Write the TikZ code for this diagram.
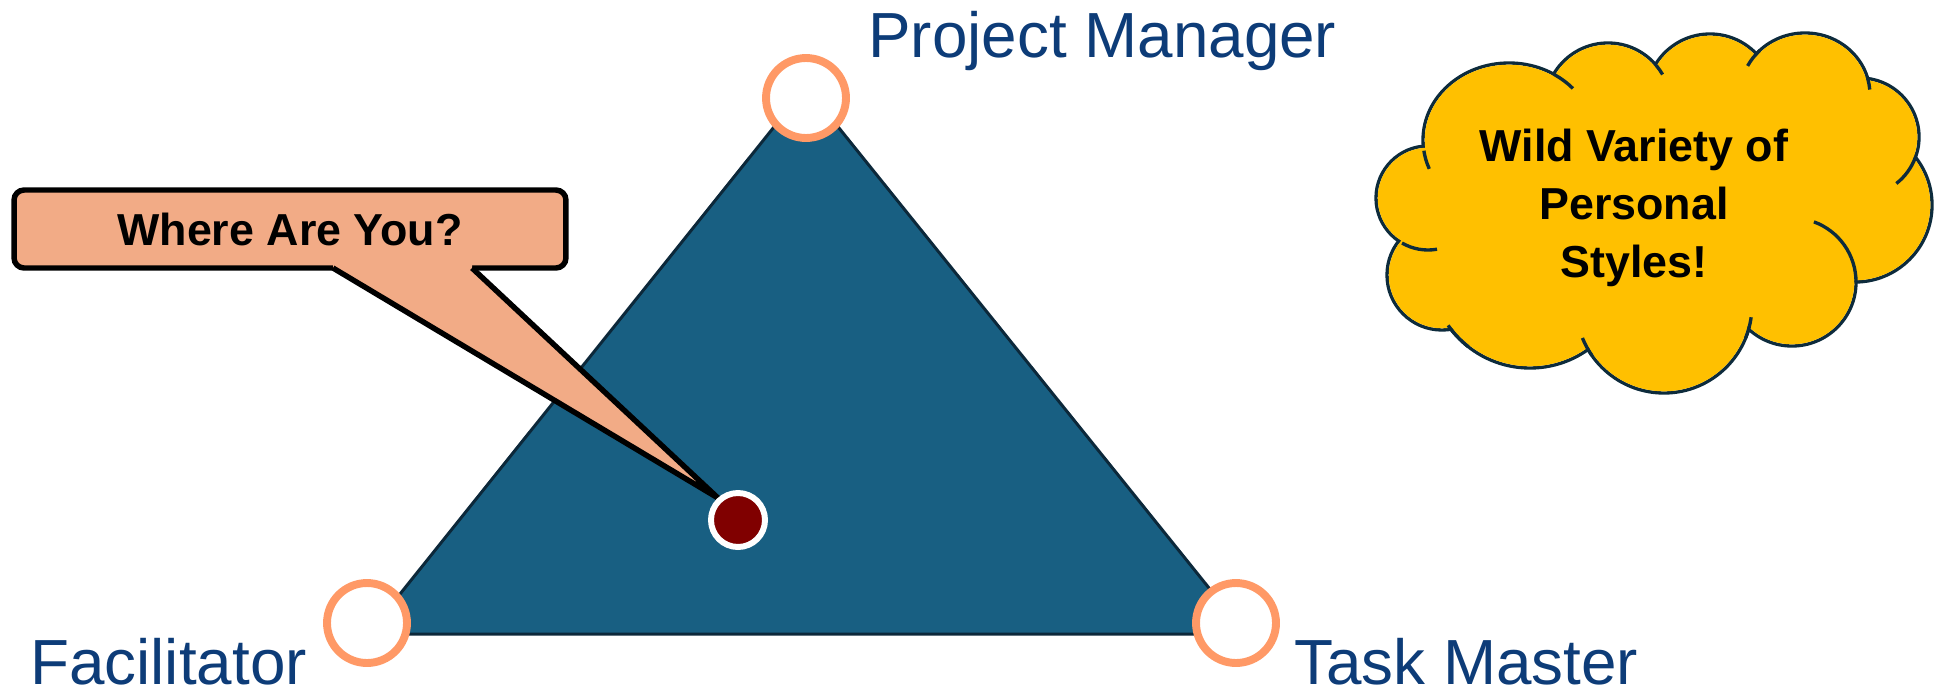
\documentclass[tikz,border=0pt]{standalone}
\usepackage{fontspec}
\setmainfont{Liberation Sans}
\definecolor{tribody}{RGB}{24,95,130}
\definecolor{triedge}{RGB}{12,40,58}
\definecolor{ringorange}{RGB}{255,153,102}
\definecolor{dotred}{RGB}{128,0,0}
\definecolor{askfill}{RGB}{242,171,134}
\definecolor{cloudyellow}{RGB}{255,192,0}
\definecolor{cloudedge}{RGB}{13,43,60}
\definecolor{labelblue}{RGB}{13,60,120}
% puffs of the cloud: x/y/x radius/y radius (pixels)
\newcommand\cloudpuffs{1509/140/86/77, 1608/106/63/63, 1710/98/64/64,
  1805/95/65/62, 1860/137/59/59, 1855/205/77/77, 1792/282/64/64,
  1664/305/88/88, 1530/268/100/100, 1442/275/55/55, 1428/198/52/52}
% short inner strokes of the cloud: x/y/x radius/y radius/from/to
\newcommand\cloudticks{1509/140/86/77/172/158, 1509/140/86/77/-58/-42,
  1608/106/63/63/-40/-30, 1805/95/65/62/226/208, 1805/95/65/62/-15/-5,
  1860/137/59/59/20/52, 1792/282/64/64/-70/0, 1664/305/88/88/8/22,
  1664/305/88/88/145/158, 1530/268/100/100/145/128, 1428/198/52/52/120/80}
\tikzset{
  tri/.style={fill=tribody,draw=triedge,line width=1.7pt,line join=miter},
  vertex/.style={circle,draw=ringorange,fill=white,line width=4.5pt,minimum size=1.6cm,inner sep=0pt},
  role/.style={anchor=base west,inner sep=0pt,text=labelblue,font=\fontsize{36.3}{40}\selectfont},
  askbox/.style={rectangle,rounded corners=5.7pt,draw=black,fill=askfill,line width=3.1pt,
    minimum width=11.04cm,minimum height=1.56cm,inner sep=0pt,font=\bfseries\fontsize{25.5}{30}\selectfont},
  asktail/.style={draw=black,line width=3.1pt,line join=miter},
  you/.style={circle,draw=white,fill=dotred,line width=3.4pt,minimum size=1.08cm,inner sep=0pt},
  cloudline/.style={draw=cloudedge,line width=1.9pt},
  cloudtext/.style={align=center,inner sep=0pt,font=\bfseries\fontsize{25.5}{32.9}\selectfont}
}
\begin{document}
\begin{tikzpicture}[x=0.02cm,y=-0.02cm]
  \useasboundingbox (0,0) rectangle (1939,693);
  % draw triangle
  \coordinate (cornerF) at (368,634);
  \coordinate (cornerP) at (806,87);
  \coordinate (cornerT) at (1246,634);
  \draw[tri] (cornerF) -- (cornerP) -- (cornerT) -- cycle;
  % draw corner circles
  \node at(806,98)[vertex](pm){};
  \node at(367,623)[vertex](fac){};
  \node at(1236,623)[vertex](tm){};
  % draw corner labels
  \node at(868,57)[role](pmlabel){Project Manager};
  \node at(30,684)[role](faclabel){Facilitator};
  \node at(1294,684)[role](tmlabel){Task Master};
  % draw callout box
  \node at(290,229)[askbox](ask){Where Are You?};
  % draw callout tail
  \coordinate (tailL) at (333,268);
  \coordinate (tailR) at (472,268);
  \coordinate (tip) at (718,498);
  \fill[askfill] ([yshift=0.06cm]tailL) -- (tailL) -- (tip) -- (tailR) -- ([yshift=0.06cm]tailR) -- cycle;
  \draw[asktail] (tailL) -- (tip) -- (tailR);
  % draw "you" dot
  \node at(738,520)[you](dot){};
  % draw cloud
  \foreach \cx/\cy/\rx/\ry in \cloudpuffs
    \draw[cloudline] (\cx,\cy) ellipse[x radius=\rx,y radius=\ry];
  \fill[cloudyellow] (1650,210) ellipse[x radius=192,y radius=96];
  \foreach \cx/\cy/\rx/\ry in \cloudpuffs
    \fill[cloudyellow] (\cx,\cy) ellipse[x radius={\rx-1.7},y radius={\ry-1.7}];
  \foreach \cx/\cy/\rx/\ry/\ta/\tb in \cloudticks
    \draw[cloudline] ([shift={(\ta:{\rx} and {\ry})}]\cx,\cy) arc[start angle=\ta,end angle=\tb,x radius=\rx,y radius=\ry];
  % draw cloud text
  \node at(1634,208)[cloudtext](styles){Wild Variety of\\Personal\\Styles!};
\end{tikzpicture}
\end{document}
